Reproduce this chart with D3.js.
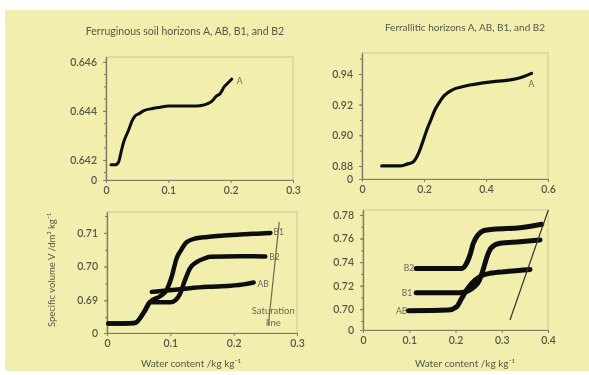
<!DOCTYPE html>
<html>
<head>
<meta charset="utf-8">
<script src="https://cdn.jsdelivr.net/npm/d3@7"></script>
<style>
body { margin: 0; background: #fff; }
svg text { font-family: Lato, "Open Sans", sans-serif; }
</style>
</head>
<body>
<div class="svg_container"></div>
<script>
const WIDTH = 589;
const HEIGHT = 375;

// ferruginous soil, horizon A (top left)
var ferrA = [[0.008, 0.6418], [0.015, 0.6418], [0.020, 0.6419], [0.024, 0.6423], [0.028, 0.6427],
  [0.036, 0.6432], [0.042, 0.6436], [0.047, 0.6438], [0.054, 0.6439], [0.060, 0.6440], [0.075, 0.6441],
  [0.087, 0.64415], [0.100, 0.6442], [0.114, 0.6442], [0.130, 0.6442], [0.145, 0.6442], [0.155, 0.64423],
  [0.163, 0.6443], [0.170, 0.6444], [0.177, 0.6446], [0.183, 0.6447], [0.190, 0.6450], [0.194, 0.6451],
  [0.2017, 0.6453]];

// ferrallitic soil, horizon A (top right)
var ferralA = [[0.0635, 0.880], [0.100, 0.880], [0.122, 0.880], [0.145, 0.8812], [0.166, 0.8828],
  [0.177, 0.886], [0.187, 0.8906], [0.198, 0.897], [0.209, 0.9035], [0.222, 0.910], [0.235, 0.9165],
  [0.248, 0.921], [0.262, 0.9252], [0.278, 0.928], [0.295, 0.930], [0.320, 0.9315], [0.348, 0.9328],
  [0.385, 0.934], [0.424, 0.935], [0.460, 0.9357], [0.488, 0.9365], [0.520, 0.9382], [0.547, 0.9404]];

// ferruginous soil, horizons B1, B2, AB (bottom left)
var ferrB1 = [[0.002, 0.6831], [0.044, 0.6833], [0.060, 0.6870], [0.068, 0.6895], [0.084, 0.6912],
  [0.094, 0.6930], [0.102, 0.6969], [0.110, 0.7025], [0.117, 0.7049], [0.126, 0.7073], [0.141, 0.7084],
  [0.158, 0.7088], [0.210, 0.7095], [0.258, 0.7100]];
var ferrB2 = [[0.002, 0.6831], [0.044, 0.6833], [0.060, 0.6870], [0.068, 0.6895], [0.084, 0.6894],
  [0.100, 0.6894], [0.108, 0.6900], [0.115, 0.6918], [0.123, 0.6959], [0.131, 0.6995], [0.142, 0.7014],
  [0.155, 0.7025], [0.163, 0.7029], [0.210, 0.7031], [0.250, 0.7030]];
var ferrAB = [[0.0707, 0.6925], [0.1155, 0.6933], [0.158, 0.6940], [0.195, 0.6943], [0.218, 0.6948],
  [0.2315, 0.6953]];
var ferrSat = [[0.2547, 0.6826], [0.272, 0.7132]];

// ferrallitic soil, horizons B2, B1, AB (bottom right)
var ferralB2 = [[0.115, 0.7346], [0.2134, 0.7346], [0.224, 0.7390], [0.2314, 0.7461], [0.2385, 0.7560],
  [0.2486, 0.7630], [0.2616, 0.7668], [0.2817, 0.7679], [0.3395, 0.7692], [0.3864, 0.7721]];
var ferralB1 = [[0.115, 0.7141], [0.2097, 0.7141], [0.227, 0.7155], [0.240, 0.7189], [0.251, 0.7240],
  [0.2595, 0.7333], [0.268, 0.7444], [0.2768, 0.7520], [0.2962, 0.7560], [0.3395, 0.7573], [0.3827, 0.7588]];
var ferralAB = [[0.098, 0.6988], [0.1844, 0.6994], [0.2026, 0.7022], [0.2134, 0.7093], [0.2242, 0.7164],
  [0.235, 0.7220], [0.253, 0.7277], [0.2746, 0.7305], [0.3107, 0.7320], [0.3611, 0.7338]];
var ferralSat = [[0.3178, 0.6909], [0.4007, 0.7842]];

var ferrTopYTicks = [0.642, 0.644, 0.646];
var ferralTopYTicks = [0.88, 0.90, 0.92, 0.94];
var ferrBotYTicks = [0.69, 0.70, 0.71];
var ferralBotYTicks = [0.70, 0.72, 0.74, 0.76, 0.78];
var ferrXTicks = [0, 0.1, 0.2, 0.3];
var ferralTopXTicks = [0, 0.2, 0.4, 0.6];
var ferralBotXTicks = [0, 0.1, 0.2, 0.3, 0.4];

var titles = ["Ferruginous soil horizons A, AB, B1, and B2", "Ferrallitic horizons A, AB, B1, and B2"];
var xTitle = "Water content /kg kg\u207B\u00B9";
var yTitle = "Specific volume V /dm\u00B3 kg\u207B\u00B9";

const TEXT = "#57574a";
const INK = "#111";

var panels = [
  {left: 106, right: 293, top: 57, bottom: 180, xDomain: [0, 0.3], yDomain: [0.64118, 0.6462],
   xTicks: ferrXTicks, yTicks: ferrTopYTicks, yFmt: ".3f", minor: 0.0005},
  {left: 362, right: 548, top: 53, bottom: 179, xDomain: [0, 0.6], yDomain: [0.8715, 0.9537],
   xTicks: ferralTopXTicks, yTicks: ferralTopYTicks, yFmt: ".2f", minor: 0.01},
  {left: 107, right: 297, top: 212, bottom: 333, xDomain: [0, 0.3], yDomain: [0.6803, 0.7162],
   xTicks: ferrXTicks, yTicks: ferrBotYTicks, yFmt: ".2f", minor: 0.005},
  {left: 363, right: 548, top: 210, bottom: 330, xDomain: [0, 0.4], yDomain: [0.6824, 0.7842],
   xTicks: ferralBotXTicks, yTicks: ferralBotYTicks, yFmt: ".2f", minor: 0.01}
];

var xFormat = function (d) { return d === 0 ? "0" : d3.format(".1f")(d); };

var makePanel = function (root, p) {
  var x = d3.scaleLinear().domain(p.xDomain).range([p.left, p.right]);
  var y = d3.scaleLinear().domain(p.yDomain).range([p.bottom, p.top]);
  var g = root.append("g");

  g.append("rect")
    .attr("x", p.left).attr("y", p.top)
    .attr("width", p.right - p.left).attr("height", p.bottom - p.top)
    .attr("fill", "none").attr("stroke", "#c9c59a").attr("stroke-width", 1);

  var minorVals = d3.range(Math.ceil(p.yDomain[0] / p.minor) * p.minor, p.yDomain[1], p.minor);
  g.append("g")
    .attr("transform", "translate(" + p.left + ",0)")
    .call(d3.axisLeft(y).tickValues(minorVals).tickSize(2).tickSizeOuter(0).tickFormat(""))
    .call(styleAxis);

  var yVals = [p.yDomain[0]].concat(p.yTicks);
  g.append("g")
    .attr("transform", "translate(" + p.left + ",0)")
    .call(d3.axisLeft(y).tickValues(yVals).tickSize(3).tickSizeOuter(0).tickPadding(6)
      .tickFormat(function (d) { return d === p.yDomain[0] ? "0" : d3.format(p.yFmt)(d); }))
    .call(styleAxis);

  g.append("g")
    .attr("transform", "translate(0," + p.bottom + ")")
    .call(d3.axisBottom(x).tickValues(p.xTicks).tickSize(3).tickSizeOuter(0).tickPadding(4)
      .tickFormat(xFormat))
    .call(styleAxis);

  return {x: x, y: y, g: g};
};

var styleAxis = function (sel) {
  sel.select(".domain").attr("stroke", "#7d7b66").attr("stroke-width", 1.2);
  sel.selectAll(".tick line").attr("stroke", "#7d7b66");
  sel.selectAll(".tick text").attr("fill", TEXT).attr("font-size", "10.5px").attr("font-weight", 600);
};

var drawSeries = function (pan, data, width) {
  var line = d3.line()
    .x(function (d) { return pan.x(d[0]); })
    .y(function (d) { return pan.y(d[1]); })
    .curve(d3.curveMonotoneX);
  pan.g.append("path")
    .attr("d", line(data))
    .attr("fill", "none")
    .attr("stroke", INK)
    .attr("stroke-width", width)
    .attr("stroke-linecap", "round")
    .attr("stroke-linejoin", "round");
};

var seriesLabel = function (pan, pt, txt, dx, dy, anchor) {
  pan.g.append("text")
    .attr("x", pan.x(pt[0]) + dx)
    .attr("y", pan.y(pt[1]) + dy)
    .attr("text-anchor", anchor || "start")
    .attr("font-size", "8.5px")
    .attr("fill", "#6a6855")
    .text(txt);
};

var loadDefault = function () {
  var svg = d3.select(".svg_container").append("svg")
    .attr("width", WIDTH)
    .attr("height", HEIGHT);

  svg.append("defs").append("filter").attr("id", "soft")
    .append("feGaussianBlur").attr("stdDeviation", 0.4);

  svg.append("rect")
    .attr("x", 5).attr("y", 10).attr("width", WIDTH - 5).attr("height", 361)
    .attr("fill", "#f1eeae");

  var root = svg.append("g").attr("filter", "url(#soft)");

  var p1 = makePanel(root, panels[0]);
  var p2 = makePanel(root, panels[1]);
  var p3 = makePanel(root, panels[2]);
  var p4 = makePanel(root, panels[3]);

  drawSeries(p1, ferrA, 3);
  seriesLabel(p1, ferrA[ferrA.length - 1], "A", 5, 5);

  drawSeries(p2, ferralA, 3.2);
  seriesLabel(p2, ferralA[ferralA.length - 1], "A", -3, 14);

  drawSeries(p3, ferrB1, 4.5);
  drawSeries(p3, ferrB2, 4.5);
  drawSeries(p3, ferrAB, 4.5);
  seriesLabel(p3, ferrB1[ferrB1.length - 1], "B1", 3, 2);
  seriesLabel(p3, ferrB2[ferrB2.length - 1], "B2", 4, 4);
  seriesLabel(p3, ferrAB[ferrAB.length - 1], "AB", 4, 5);

  var sat = d3.line().x(function (d) { return p3.x(d[0]); }).y(function (d) { return p3.y(d[1]); });
  p3.g.append("path").attr("d", sat(ferrSat))
    .attr("stroke", "#6b6950").attr("stroke-width", 1.2).attr("fill", "none");
  var satText = p3.g.append("text")
    .attr("x", p3.x(ferrSat[0][0]) + 5)
    .attr("y", p3.y(ferrSat[0][1]) - 11)
    .attr("text-anchor", "middle")
    .attr("font-size", "9.5px")
    .attr("fill", "#6a6855");
  satText.append("tspan").text("Saturation");
  satText.append("tspan").attr("x", p3.x(ferrSat[0][0]) + 5).attr("dy", 12).text("line");

  drawSeries(p4, ferralB2, 5);
  drawSeries(p4, ferralB1, 5);
  drawSeries(p4, ferralAB, 5);
  seriesLabel(p4, ferralB2[0], "B2", -2, 3, "end");
  seriesLabel(p4, ferralB1[0], "B1", -4, 3, "end");
  seriesLabel(p4, ferralAB[0], "AB", -1, 3, "end");

  var sat2 = d3.line().x(function (d) { return p4.x(d[0]); }).y(function (d) { return p4.y(d[1]); });
  p4.g.append("path").attr("d", sat2(ferralSat))
    .attr("stroke", "#333").attr("stroke-width", 1.2).attr("fill", "none");

  root.append("text")
    .attr("x", 185).attr("y", 35)
    .attr("text-anchor", "middle").attr("font-size", "10.5px").attr("fill", TEXT)
    .text(titles[0]);
  root.append("text")
    .attr("x", 465).attr("y", 31)
    .attr("text-anchor", "middle").attr("font-size", "10px").attr("fill", TEXT)
    .text(titles[1]);

  root.append("text")
    .attr("x", 191).attr("y", 367)
    .attr("text-anchor", "middle").attr("font-size", "10px").attr("fill", TEXT)
    .text(xTitle);
  root.append("text")
    .attr("x", 465).attr("y", 367)
    .attr("text-anchor", "middle").attr("font-size", "10px").attr("fill", TEXT)
    .text(xTitle);

  root.append("text")
    .attr("transform", "translate(55,270) rotate(-90)")
    .attr("text-anchor", "middle").attr("font-size", "9.5px").attr("fill", TEXT)
    .text(yTitle);
};

window.onload = loadDefault;
</script>
</body>
</html>
